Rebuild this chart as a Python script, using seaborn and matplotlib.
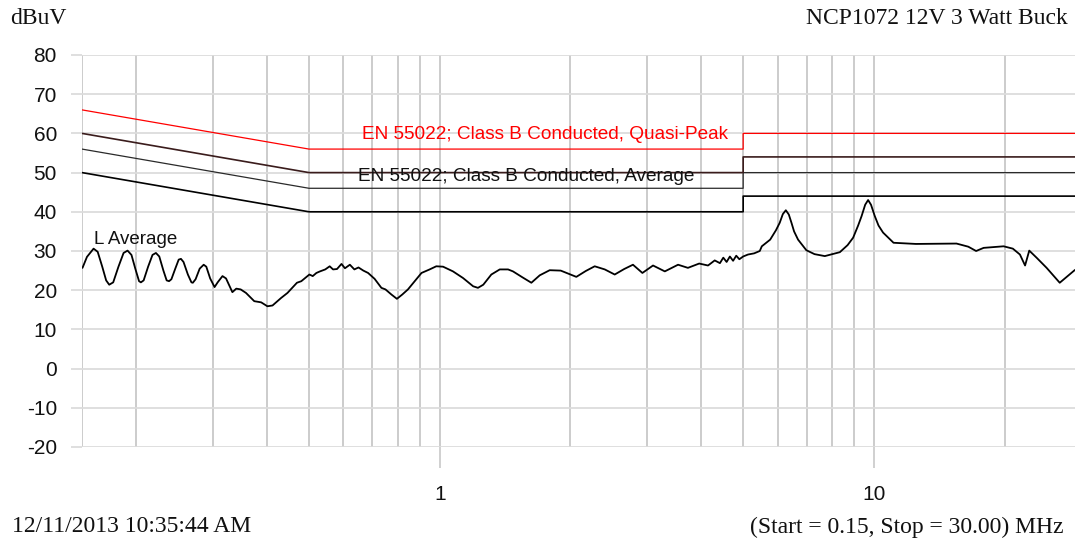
import numpy as np
import pandas as pd
import matplotlib
matplotlib.use("Agg")
import matplotlib.pyplot as plt
from matplotlib.ticker import FixedLocator, NullFormatter
import seaborn as sns

# EN 55022 Class B conducted limits (MHz, dBuV)
limit_freq = [0.15, 0.5, 5.0, 5.0, 30.0]
qp_limit = [66, 56, 56, 60, 60]
qp_margin = [60, 50, 50, 54, 54]
avg_limit = [56, 46, 46, 50, 50]
avg_margin = [50, 40, 40, 44, 44]

# Measured L-line average scan (MHz, dBuV)
scan_freq = [0.1504, 0.154, 0.1595, 0.163, 0.167, 0.1705, 0.1733, 0.177, 0.182, 0.187,
             0.191, 0.195, 0.199, 0.203, 0.205, 0.208, 0.213, 0.218, 0.222, 0.226,
             0.231, 0.235, 0.238, 0.241, 0.246, 0.2505, 0.2535, 0.257, 0.263, 0.268,
             0.270, 0.274, 0.280, 0.286, 0.290, 0.296, 0.303, 0.308, 0.316, 0.322,
             0.333, 0.340, 0.348, 0.358, 0.374, 0.388, 0.401, 0.412, 0.431,
             0.446, 0.469, 0.480, 0.501, 0.510, 0.520, 0.530, 0.545, 0.558, 0.568,
             0.580, 0.594, 0.605, 0.621, 0.636, 0.650, 0.667, 0.684, 0.708, 0.734,
             0.750, 0.774, 0.797, 0.820, 0.845, 0.876, 0.908, 0.948, 0.982, 1.018,
             1.073, 1.132, 1.17, 1.194, 1.225, 1.26, 1.315, 1.375, 1.437, 1.475, 1.55,
             1.626, 1.70, 1.792, 1.90, 2.064, 2.17, 2.275, 2.40, 2.53, 2.66, 2.787, 2.93, 3.10,
             3.30, 3.54, 3.73, 3.96, 4.15, 4.30, 4.42, 4.50, 4.58, 4.66,
             4.74, 4.82, 4.90, 5.00, 5.13, 5.30, 5.46, 5.52, 5.77, 5.95, 6.07,
             6.17, 6.27, 6.37, 6.46, 6.55, 6.69, 6.99, 7.30, 7.71, 8.35, 8.70, 8.96, 9.20, 9.37,
             9.55, 9.70, 9.85, 10.05, 10.25, 10.5, 11.1, 12.5, 15.5, 16.5, 17.2, 17.9, 19.9,
             20.9, 21.7, 22.3, 22.8, 23.7, 25.0, 26.8, 29.0, 30.0]
scan_level = [25.7, 28.5, 30.6, 29.8, 26.0, 22.5, 21.4, 22.0, 26.0, 29.5,
              30.1, 29.0, 25.5, 22.3, 22.0, 22.5, 26.0, 29.0, 29.5, 28.6,
              25.0, 22.5, 22.3, 22.8, 25.5, 27.8, 28.0, 27.2, 24.0, 22.0,
              21.9, 22.8, 25.5, 26.5, 26.0, 23.0, 20.8, 22.0, 23.6, 23.0,
              19.5, 20.4, 20.2, 19.3, 17.2, 16.9, 15.9, 16.1, 18.0,
              19.3, 21.9, 22.3, 24.0, 23.6, 24.4, 24.8, 25.3, 26.1, 25.3,
              25.4, 26.7, 25.6, 26.5, 25.3, 25.8, 25.0, 24.4, 22.9, 20.6,
              20.2, 18.9, 17.8, 18.9, 20.2, 22.3, 24.4, 25.3, 26.1, 26.0,
              24.8, 23.1, 21.8, 21.0, 20.6, 21.4, 24.0, 25.3, 25.3, 24.8, 23.3,
              21.9, 23.8, 25.1, 25.0, 23.4, 24.9, 26.1, 25.3, 24.0, 25.4, 26.5, 24.4, 26.3,
              24.8, 26.5, 25.7, 26.8, 26.3, 27.6, 26.9, 28.3, 27.2, 28.6,
              27.5, 28.8, 27.9, 28.6, 29.1, 29.4, 30.0, 31.2, 32.9, 35.3, 37.2,
              39.4, 40.4, 39.3, 37.2, 35.0, 32.9, 30.2, 29.2, 28.7, 29.7, 31.5, 33.4, 36.5, 38.9,
              41.8, 43.0, 41.8, 38.9, 36.5, 34.7, 32.1, 31.8, 31.9, 31.1, 30.0, 30.8, 31.2,
              30.6, 29.1, 26.3, 30.1, 28.3, 25.7, 21.9, 25.1, 26.0]

x_major = [1, 10]
x_minor = [0.2, 0.3, 0.4, 0.5, 0.6, 0.7, 0.8, 0.9, 2, 3, 4, 5, 6, 7, 8, 9, 20, 30]
y_ticks = list(range(-20, 81, 10))

sns.set_theme(style="white")
plt.rcParams["font.family"] = ["Liberation Sans", "DejaVu Sans"]

fig = plt.figure(figsize=(10.75, 5.42), dpi=100)
ax = fig.add_axes([82 / 1075, 1 - 447 / 542, (1081 - 82) / 1075, (447 - 55) / 542])
ax.set_xscale("log")

limits = pd.DataFrame({"freq": limit_freq, "qp": qp_limit, "qpm": qp_margin,
                       "avg": avg_limit, "avgm": avg_margin})
scan = pd.DataFrame({"freq": scan_freq, "level": scan_level})

line_kw = dict(estimator=None, sort=False, ax=ax, legend=False)
sns.lineplot(data=limits, x="freq", y="avgm", color="#000000", linewidth=1.2, **line_kw)
sns.lineplot(data=limits, x="freq", y="avg", color="#2a2a2a", linewidth=0.9, **line_kw)
sns.lineplot(data=limits, x="freq", y="qpm", color="#3a1c1c", linewidth=1.2, **line_kw)
sns.lineplot(data=limits, x="freq", y="qp", color="#ff0000", linewidth=0.9, **line_kw)
sns.lineplot(data=scan, x="freq", y="level", color="#000000", linewidth=1.3, **line_kw)

ax.set_xlim(0.15, 30)
ax.set_ylim(-20, 80)
ax.set_xlabel("")
ax.set_ylabel("")

# grid: vertical decade lines darker, horizontal lines lighter
for f in x_minor + x_major:
    ax.axvline(f, color="#c8c8c8", linewidth=1.3, zorder=0)
ax.axvline(0.15, color="#c8c8c8", linewidth=1.3, zorder=0)
for y in y_ticks:
    ax.axhline(y, color="#dcdcdc", linewidth=1.3, zorder=0)

for s in ax.spines.values():
    s.set_visible(False)

ax.xaxis.set_major_locator(FixedLocator(x_major))
ax.xaxis.set_minor_locator(FixedLocator(x_minor))
ax.xaxis.set_minor_formatter(NullFormatter())
ax.set_xticklabels(["1", "10"])
ax.set_yticks(y_ticks)
ax.set_yticklabels([str(v) for v in y_ticks])
ax.tick_params(axis="x", which="major", length=15, width=1.2, color="#c8c8c8",
               labelsize=15, pad=12, labelcolor="#111111")
ax.tick_params(axis="x", which="minor", length=0)
ax.tick_params(axis="y", length=8, width=1.3, color="#dcdcdc", labelsize=15,
               pad=10, labelcolor="#111111")
ax.tick_params(axis="both", which="both", bottom=True, left=True)

# limit annotations
ax.text(4.61, 59.6, "EN 55022; Class B Conducted, Quasi-Peak", color="#ff0000",
        fontsize=13.7, ha="right", va="center")
ax.text(3.87, 48.9, "EN 55022; Class B Conducted, Average", color="#111111",
        fontsize=13.7, ha="right", va="center")
ax.text(0.160, 33.0, "L Average", color="#111111", fontsize=13.5, ha="left", va="center")

serif = ["Liberation Serif", "DejaVu Serif"]
fig.text(10 / 1075, 1 - 18 / 542, "dBuV", family=serif, fontsize=17,
         ha="left", va="center", color="#111111")
fig.text(1068 / 1075, 1 - 18 / 542, "NCP1072 12V 3 Watt Buck", family=serif,
         fontsize=17, ha="right", va="center", color="#111111")
fig.text(12 / 1075, 1 - 527 / 542, "12/11/2013 10:35:44 AM", family=serif,
         fontsize=17, ha="left", va="center", color="#111111")
fig.text(1063 / 1075, 1 - 527 / 542, "(Start = 0.15, Stop = 30.00) MHz", family=serif,
         fontsize=17, ha="right", va="center", color="#111111")

fig.savefig("out.png", dpi=100, facecolor="white")
